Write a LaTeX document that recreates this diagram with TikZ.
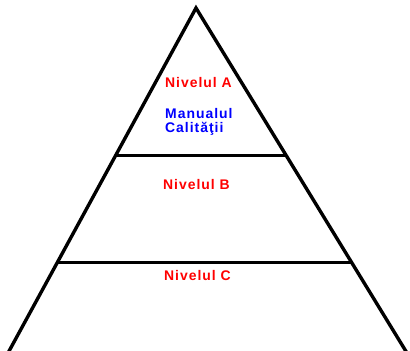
\documentclass[tikz,border=0pt]{standalone}
\usepackage{fontspec}
\setmainfont{Liberation Sans}
\newfontfamily\labelfont[LetterSpace=7]{Liberation Sans}
\definecolor{nivred}{RGB}{255,0,0}
\definecolor{manblue}{RGB}{0,0,255}
\tikzset{
  nivel/.style={text=nivred, font=\labelfont\fontsize{14}{16}\selectfont\bfseries, anchor=west, inner sep=0pt},
  manual/.style={text=manblue, font=\labelfont\fontsize{14}{15}\selectfont\bfseries, anchor=north west, align=left, inner sep=0pt}
}
\begin{document}
\begin{tikzpicture}[x=1bp, y=-1bp]
  \useasboundingbox (0,0) rectangle (410,351);
  % Pyramid outline
  \draw[line width=3.4bp] (8,353) -- (196,8) -- (407,353);
  % Level separators
  \draw[line width=3bp] (116,155) -- (286,155);
  \draw[line width=3bp] (58,262) -- (353,262);

  % Labels in the levels
  \node[nivel] (nivA) at (165,83) {Nivelul A};
  \node[manual] (manual) at (165,108) {Manualul\\[-1bp]Calităţii};
  \node[nivel] (nivB) at (163,185) {Nivelul B};
  \node[nivel] (nivC) at (164,276) {Nivelul C};
\end{tikzpicture}
\end{document}
